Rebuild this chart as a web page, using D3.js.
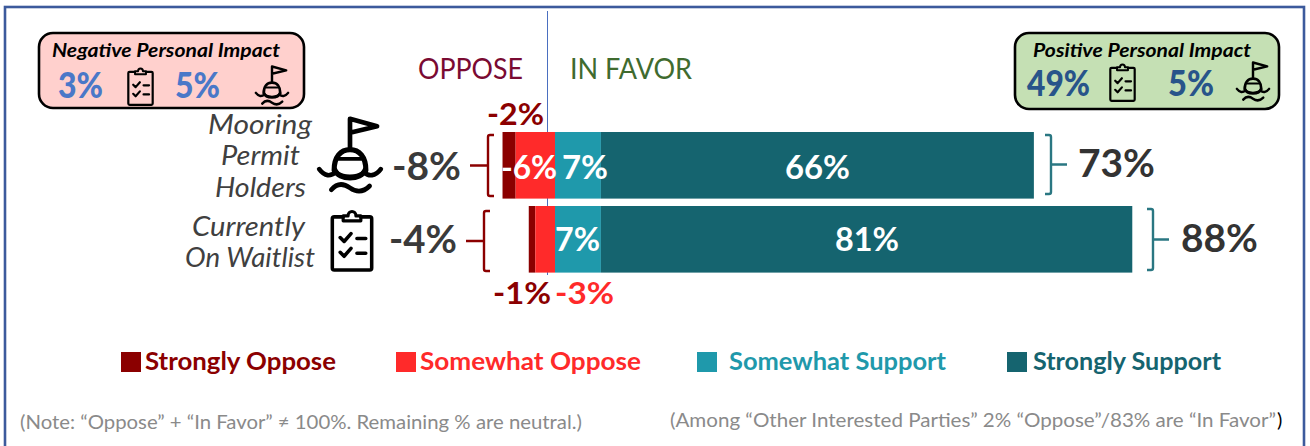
<!DOCTYPE html>
<html>
<head>
<meta charset="utf-8">
<script src="https://cdn.jsdelivr.net/npm/d3@7"></script>
<style>
html,body{margin:0;padding:0;background:#fff}
svg{display:block}
text{font-family:"Lato",sans-serif}
</style>
</head>
<body>
<svg id="chart" width="1310" height="446"></svg>
<script>
// Survey groups and their response shares (percent)
const groups = ["Mooring Permit Holders", "Currently On Waitlist"];
const stronglyOppose = [2, 1];
const somewhatOppose = [6, 3];
const somewhatSupport = [7, 7];
const stronglySupport = [66, 81];
const netOppose = [8, 4];
const netFavor = [73, 88];

const seriesNames = ["Strongly Oppose", "Somewhat Oppose", "Somewhat Support", "Strongly Support"];
const seriesColors = ["#8b0000", "#ff2a2a", "#1f99ab", "#15646f"];

const impactNegative = [3, 5];
const impactPositive = [49, 5];

const svg = d3.select("#chart");
const x = d3.scaleLinear().domain([0, 10]).range([555, 620.6]);
const y = d3.scaleBand().domain(groups).range([132, 272.6]).paddingInner(0.1).paddingOuter(0);

// Draws text stretched to span a given horizontal extent
function fit(parent, str, x0, x1, baseline, size, color, opts = {}) {
  return parent.append("text")
    .attr("x", x0).attr("y", baseline)
    .attr("textLength", x1 - x0).attr("lengthAdjust", "spacingAndGlyphs")
    .attr("font-size", size).attr("fill", color)
    .attr("font-weight", opts.weight || 400)
    .attr("font-style", opts.style || "normal")
    .text(str);
}

// Outer frame
svg.append("rect").attr("x", 5).attr("y", 7).attr("width", 1299).attr("height", 460)
  .attr("fill", "none").attr("stroke", "#3c5a9c").attr("stroke-width", 2.6);

// Reusable pictograms
const defs = svg.append("defs");
const buoy = defs.append("symbol").attr("id", "buoy").attr("viewBox", "0 0 70 90").attr("overflow", "visible");
const bg = buoy.append("g").attr("fill", "none").attr("stroke", "#000").attr("stroke-linecap", "round").attr("stroke-linejoin", "round");
bg.append("path").attr("d", "M35 34V3L64 11L35 18Z").attr("stroke-width", 5);
bg.append("path").attr("d", "M18 58C18 44 25 36 35 36C45 36 52 44 52 58").attr("stroke-width", 5.5);
bg.append("path").attr("d", "M23 46H47").attr("stroke-width", 4);
bg.append("path").attr("d", "M19 58C22 69 48 69 51 58").attr("stroke-width", 5.5);
bg.append("path").attr("d", "M2 57C8 65 14 65 20 60C26 67 44 67 50 60C55 65 62 65 68 57").attr("stroke-width", 5);
bg.append("path").attr("d", "M15 79C21 72 28 72 35 77C42 82 49 82 56 75").attr("stroke-width", 5);

const clip = defs.append("symbol").attr("id", "clipboard").attr("viewBox", "0 0 46 64").attr("overflow", "visible");
const cg = clip.append("g").attr("fill", "none").attr("stroke", "#000").attr("stroke-linecap", "round").attr("stroke-linejoin", "round");
cg.append("path").attr("d", "M14 8H5Q3 8 3 10V60Q3 62 5 62H41Q43 62 43 60V10Q43 8 41 8H32").attr("stroke-width", 3.6);
cg.append("path").attr("d", "M14 12V7H19C19 1 27 1 27 7H32V12Z").attr("stroke-width", 3.2);
cg.append("path").attr("d", "M11 29L15 33L22 25M28 30H37M11 44L15 48L22 40M28 45H37").attr("stroke-width", 3.6);

// Panel with the personal impact figures
function impactPanel(o) {
  const g = svg.append("g");
  g.append("rect").attr("x", o.x).attr("y", o.y).attr("width", o.w).attr("height", o.h).attr("rx", 14)
    .attr("fill", o.fill).attr("stroke", "#000").attr("stroke-width", 2.6);
  fit(g, o.title, o.titleSpan[0], o.titleSpan[1], o.titleY, 19, "#000", {weight: 700, style: "italic"});
  o.values.forEach((v, i) => {
    fit(g, v + "%", o.valueSpan[i][0], o.valueSpan[i][1], o.valueY, 36, o.valueColor, {weight: 900});
  });
  g.append("use").attr("href", "#clipboard").attr("x", o.clipX).attr("y", o.clipY).attr("width", 29).attr("height", 39);
  g.append("use").attr("href", "#buoy").attr("x", o.buoyX).attr("y", o.clipY - 2).attr("width", 36).attr("height", 44);
}
impactPanel({x: 39, y: 33, w: 265, h: 75, fill: "#ffd0cd", title: "Negative Personal Impact", titleSpan: [52, 280], titleY: 57,
  values: impactNegative, valueSpan: [[58, 103], [175, 220]], valueY: 98, valueColor: "#4a78c8", clipX: 126, clipY: 67, buoyX: 254});
impactPanel({x: 1015, y: 33, w: 264, h: 76, fill: "#c5e0b4", title: "Positive Personal Impact", titleSpan: [1033, 1251], titleY: 57,
  values: impactPositive, valueSpan: [[1027, 1090], [1168, 1214]], valueY: 96, valueColor: "#28548a", clipX: 1108, clipY: 63, buoyX: 1235});

// Axis line separating oppose from in favor
svg.append("line").attr("x1", 547.5).attr("x2", 547.5).attr("y1", 11).attr("y2", 275)
  .attr("stroke", "#4a6fc0").attr("stroke-width", 1);

fit(svg, "OPPOSE", 418, 523, 79, 28, "#7a0a32");
fit(svg, "IN FAVOR", 570, 692, 79, 28, "#3f6b2f");

// Stacked bars, diverging around zero
const rows = groups.map((name, i) => ({name, i}));
const segments = [
  {key: 0, from: i => -stronglyOppose[i] - somewhatOppose[i], to: i => -somewhatOppose[i]},
  {key: 1, from: i => -somewhatOppose[i], to: () => 0},
  {key: 2, from: () => 0, to: i => somewhatSupport[i]},
  {key: 3, from: i => somewhatSupport[i], to: i => somewhatSupport[i] + stronglySupport[i]}
];
segments.forEach(seg => {
  svg.append("g").selectAll("rect").data(rows).join("rect")
    .attr("x", d => x(seg.from(d.i)))
    .attr("y", d => y(d.name))
    .attr("width", d => x(seg.to(d.i)) - x(seg.from(d.i)))
    .attr("height", y.bandwidth())
    .attr("fill", seriesColors[seg.key]);
});

// Value labels inside the bars
const bold = {weight: 700};
fit(svg, `-${somewhatOppose[0]}%`, 501, 557, 179, 32, "#fff", bold);
fit(svg, `${somewhatSupport[0]}%`, 562, 608, 179, 32, "#fff", bold);
fit(svg, `${stronglySupport[0]}%`, 785, 850, 179, 32, "#fff", bold);
fit(svg, `${somewhatSupport[1]}%`, 555, 600, 251, 32, "#fff", bold);
fit(svg, `${stronglySupport[1]}%`, 835, 899, 251, 32, "#fff", bold);

// Value labels outside the bars
fit(svg, `-${stronglyOppose[0]}%`, 487, 544, 125, 30, seriesColors[0], bold);
fit(svg, `-${stronglyOppose[1]}%`, 493, 551, 304, 30, seriesColors[0], bold);
fit(svg, `-${somewhatOppose[1]}%`, 555, 614, 304, 30, seriesColors[1], bold);
fit(svg, `-${netOppose[0]}%`, 392, 461, 180, 38, "#3a3a3a", bold);
fit(svg, `-${netOppose[1]}%`, 389, 457, 253, 38, "#3a3a3a", bold);
fit(svg, `${netFavor[0]}%`, 1078, 1155, 177, 38, "#333", bold);
fit(svg, `${netFavor[1]}%`, 1181, 1258, 252, 38, "#333", bold);

// Braces tying each bar side to its net figure
function bracket(px, top, bottom, dir, stemTo, color) {
  const mid = (top + bottom) / 2;
  svg.append("path").attr("fill", "none").attr("stroke", color).attr("stroke-width", 2.4)
    .attr("d", `M${px + dir * 6} ${top}H${px + dir * 2}Q${px} ${top} ${px} ${top + 2}V${bottom - 2}Q${px} ${bottom} ${px + dir * 2} ${bottom}H${px + dir * 6}M${px} ${mid}H${stemTo}`);
}
bracket(488, 135, 196, 1, 470, seriesColors[0]);
bracket(484, 211, 271, 1, 466, seriesColors[0]);
bracket(1051, 135, 194, -1, 1067, "#2a7782");
bracket(1153, 209, 270, -1, 1169, "#2a7782");

// Group names with their pictograms
const italic = {style: "italic", weight: 400};
const nameParts = [["Mooring", "Permit", "Holders"], ["Currently", "On Waitlist"]];
const nameSpans = [[[208, 312], [221, 300], [215, 306]], [[192, 305], [185, 315]]];
const nameBase = [[134, 165, 197], [236, 267]];
nameParts.forEach((parts, g) => parts.forEach((t, i) =>
  fit(svg, t, nameSpans[g][i][0], nameSpans[g][i][1], nameBase[g][i], 27, "#404040", italic)));
svg.append("use").attr("href", "#buoy").attr("x", 316).attr("y", 116).attr("width", 68).attr("height", 84);
svg.append("use").attr("href", "#clipboard").attr("x", 329).attr("y", 209).attr("width", 46).attr("height", 63);

// Legend
const legendX = [121, 396, 697, 1007];
const legendSpan = [[145, 336], [420, 641], [729, 946], [1033, 1221]];
seriesNames.forEach((name, i) => {
  svg.append("rect").attr("x", legendX[i]).attr("y", 352).attr("width", 20).attr("height", 20).attr("fill", seriesColors[i]);
  fit(svg, name, legendSpan[i][0], legendSpan[i][1], 370, 25, seriesColors[i], bold);
});

// Footnotes
fit(svg, "(Note: “Oppose” + “In Favor” ≠ 100%. Remaining % are neutral.)", 20, 582, 429, 20, "#8a8a8a");
fit(svg, "(Among “Other Interested Parties” 2% “Oppose”/83% are “In Favor”", 670, 1276, 427, 20, "#8a8a8a");
svg.append("text").attr("x", 1277).attr("y", 427).attr("font-size", 20).attr("fill", "#000").text(")");
</script>
</body>
</html>
